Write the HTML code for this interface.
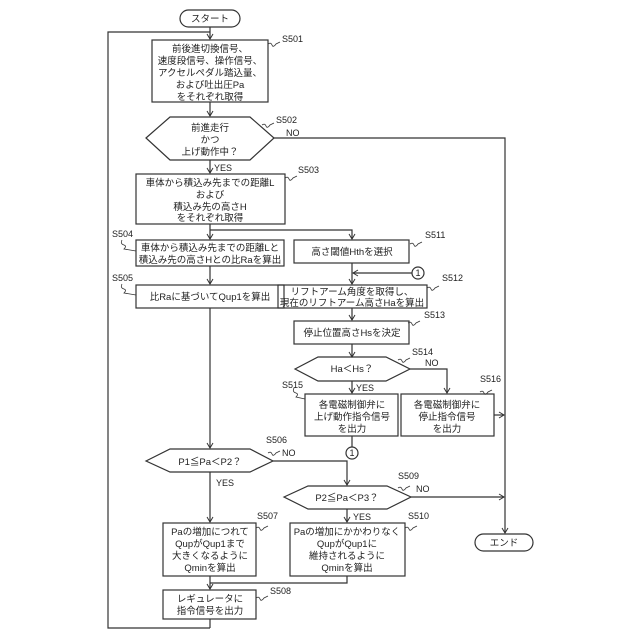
<!DOCTYPE html>
<html><head><meta charset="utf-8"><style>
body{margin:0;background:#fff}
svg{display:block}
text{font-family:"Liberation Sans","Noto Sans CJK JP",sans-serif;font-size:9.5px;fill:#222}
.l{font-size:9px}
</style></head><body>
<svg width="640" height="640" viewBox="0 0 640 640" xmlns="http://www.w3.org/2000/svg">
<defs><marker id="a" markerWidth="8" markerHeight="8" refX="6" refY="4" orient="auto" markerUnits="userSpaceOnUse"><path d="M1,1 L6,4 L1,7" fill="none" stroke="#333" stroke-width="1"/></marker></defs>
<g fill="none" stroke="#333" stroke-width="1.2">
<rect x="180" y="10" width="60" height="17" rx="8.5"/>
<line x1="210" y1="27" x2="210" y2="39" marker-end="url(#a)"/>
<polyline points="210,628 108,628 108,32 210,32"/>
<rect x="152" y="40" width="116" height="62"/>
<line x1="210" y1="102" x2="210" y2="116" marker-end="url(#a)"/>
<polygon points="146,138 170,117 250,117 274,138 250,160 170,160"/>
<polyline points="274,138 505,138 505,533" marker-end="url(#a)"/>
<line x1="210" y1="160" x2="210" y2="173" marker-end="url(#a)"/>
<rect x="136" y="174" width="149" height="50"/>
<line x1="210" y1="224" x2="210" y2="239" marker-end="url(#a)"/>
<polyline points="210,230 352,230 352,239" marker-end="url(#a)"/>
<rect x="136" y="240" width="148" height="26"/>
<line x1="210" y1="266" x2="210" y2="284" marker-end="url(#a)"/>
<rect x="136" y="285" width="148" height="23"/>
<line x1="210" y1="308" x2="210" y2="448" marker-end="url(#a)"/>
<rect x="294" y="240" width="115" height="23"/>
<line x1="352" y1="263" x2="352" y2="284" marker-end="url(#a)"/>
<circle cx="418" cy="273" r="6"/>
<line x1="412" y1="273" x2="353" y2="273" marker-end="url(#a)"/>
<rect x="278" y="285" width="149" height="23"/>
<line x1="352" y1="308" x2="352" y2="320" marker-end="url(#a)"/>
<rect x="294" y="321" width="115" height="23"/>
<line x1="352" y1="344" x2="352" y2="357" marker-end="url(#a)"/>
<polygon points="295,369 318,357 386,357 410,369 386,381 318,381"/>
<polyline points="410,369 447,369 447,393" marker-end="url(#a)"/>
<line x1="352" y1="381" x2="352" y2="393" marker-end="url(#a)"/>
<rect x="305" y="394" width="93" height="42"/>
<rect x="401" y="394" width="93" height="42"/>
<line x1="494" y1="415" x2="504" y2="415" marker-end="url(#a)"/>
<line x1="352" y1="436" x2="352" y2="447"/>
<circle cx="352" cy="453" r="6"/>
<polygon points="146,461 170,449 250,449 273,461 250,472 170,472"/>
<polyline points="273,461 347,461 347,485" marker-end="url(#a)"/>
<line x1="210" y1="472" x2="210" y2="522" marker-end="url(#a)"/>
<polygon points="284,497 308,486 387,486 411,497 387,509 308,509"/>
<line x1="411" y1="497" x2="504" y2="497" marker-end="url(#a)"/>
<line x1="347" y1="509" x2="347" y2="522" marker-end="url(#a)"/>
<rect x="163" y="523" width="93" height="53"/>
<rect x="290" y="523" width="115" height="53"/>
<line x1="210" y1="576" x2="210" y2="589" marker-end="url(#a)"/>
<polyline points="347,576 347,583 210,583"/>
<rect x="163" y="590" width="93" height="29"/>
<line x1="210" y1="619" x2="210" y2="628"/>
<rect x="475" y="534" width="58" height="17" rx="8.5"/>
</g>
<g text-anchor="middle">
<text x="210" y="22">スタート</text>
<text x="210" y="52">前後進切換信号、</text>
<text x="210" y="64">速度段信号、操作信号、</text>
<text x="210" y="76">アクセルペダル踏込量、</text>
<text x="210" y="88">および吐出圧Pa</text>
<text x="210" y="100">をそれぞれ取得</text>
<text x="210" y="131">前進走行</text>
<text x="210" y="143">かつ</text>
<text x="210" y="155">上げ動作中？</text>
<text x="210" y="186">車体から積込み先までの距離L</text>
<text x="210" y="198">および</text>
<text x="210" y="210">積込み先の高さH</text>
<text x="210" y="221">をそれぞれ取得</text>
<text x="210" y="251">車体から積込み先までの距離Lと</text>
<text x="210" y="263">積込み先の高さHとの比Raを算出</text>
<text x="210" y="300">比Raに基づいてQup1を算出</text>
<text x="352" y="255">高さ閾値Hthを選択</text>
<text x="418" y="276" class="l">1</text>
<text x="352" y="295">リフトアーム角度を取得し、</text>
<text x="352" y="306">現在のリフトアーム高さHaを算出</text>
<text x="352" y="336">停止位置高さHsを決定</text>
<text x="352" y="372">Ha＜Hs？</text>
<text x="352" y="408">各電磁制御弁に</text>
<text x="352" y="420">上げ動作指令信号</text>
<text x="352" y="432">を出力</text>
<text x="447" y="408">各電磁制御弁に</text>
<text x="447" y="420">停止指令信号</text>
<text x="447" y="432">を出力</text>
<text x="352" y="456" class="l">1</text>
<text x="210" y="465">P1≦Pa＜P2？</text>
<text x="347" y="501">P2≦Pa＜P3？</text>
<text x="210" y="535">Paの増加につれて</text>
<text x="210" y="547">QupがQup1まで</text>
<text x="210" y="559">大きくなるように</text>
<text x="210" y="571">Qminを算出</text>
<text x="347" y="535">Paの増加にかかわりなく</text>
<text x="347" y="547">QupがQup1に</text>
<text x="347" y="559">維持されるように</text>
<text x="347" y="571">Qminを算出</text>
<text x="210" y="602">レギュレータに</text>
<text x="210" y="614">指令信号を出力</text>
<text x="504" y="546">エンド</text>
</g>
<g class="l">
<text x="282" y="42" class="l">S501</text>
<text x="276" y="123" class="l">S502</text>
<text x="286" y="136" class="l">NO</text>
<text x="214" y="171" class="l">YES</text>
<text x="298" y="173" class="l">S503</text>
<text x="112" y="237" class="l">S504</text>
<text x="112" y="281" class="l">S505</text>
<text x="425" y="238" class="l">S511</text>
<text x="442" y="281" class="l">S512</text>
<text x="424" y="318" class="l">S513</text>
<text x="412" y="355" class="l">S514</text>
<text x="425" y="366" class="l">NO</text>
<text x="282" y="388" class="l">S515</text>
<text x="356" y="391" class="l">YES</text>
<text x="480" y="382" class="l">S516</text>
<text x="266" y="443" class="l">S506</text>
<text x="282" y="456" class="l">NO</text>
<text x="216" y="486" class="l">YES</text>
<text x="398" y="479" class="l">S509</text>
<text x="416" y="492" class="l">NO</text>
<text x="353" y="520" class="l">YES</text>
<text x="257" y="519" class="l">S507</text>
<text x="408" y="519" class="l">S510</text>
<text x="270" y="594" class="l">S508</text>
</g>
<g fill="none" stroke="#333" stroke-width="0.8">
<path d="M268,44 q3,-2 4,1 q1,3 4,-1 l4,-2"/>
<path d="M262,125 q3,-2 4,1 q1,3 4,-1 l4,-2"/>
<path d="M285,178 q3,-2 4,1 q1,3 4,-1 l4,-2"/>
<path d="M410,244 q3,-2 4,1 q1,3 4,-1 l4,-2"/>
<path d="M427,288 q3,-2 4,1 q1,3 4,-1 l4,-2"/>
<path d="M408,323 q3,-2 4,1 q1,3 4,-1 l4,-2"/>
<path d="M398,360 q3,-2 4,1 q1,3 4,-1 l4,-2"/>
<path d="M480,392 q3,-2 4,1 q1,3 4,-1 l4,-2"/>
<path d="M268,453 q3,-2 4,1 q1,3 4,-1 l4,-2"/>
<path d="M398,488 q3,-2 4,1 q1,3 4,-1 l4,-2"/>
<path d="M256,528 q3,-2 4,1 q1,3 4,-1 l4,-2"/>
<path d="M405,528 q3,-2 4,1 q1,3 4,-1 l4,-2"/>
<path d="M256,598 q3,-2 4,1 q1,3 4,-1 l4,-2"/>
<path d="M122,240 q-2,4 2,5 q3,1 0,4 l12,2"/>
<path d="M122,284 q-2,4 2,5 q3,1 0,4 l12,2"/>
<path d="M294,388 q-2,4 2,5 q3,1 0,4 l9,2"/>
</g>
</svg>
</body></html>
